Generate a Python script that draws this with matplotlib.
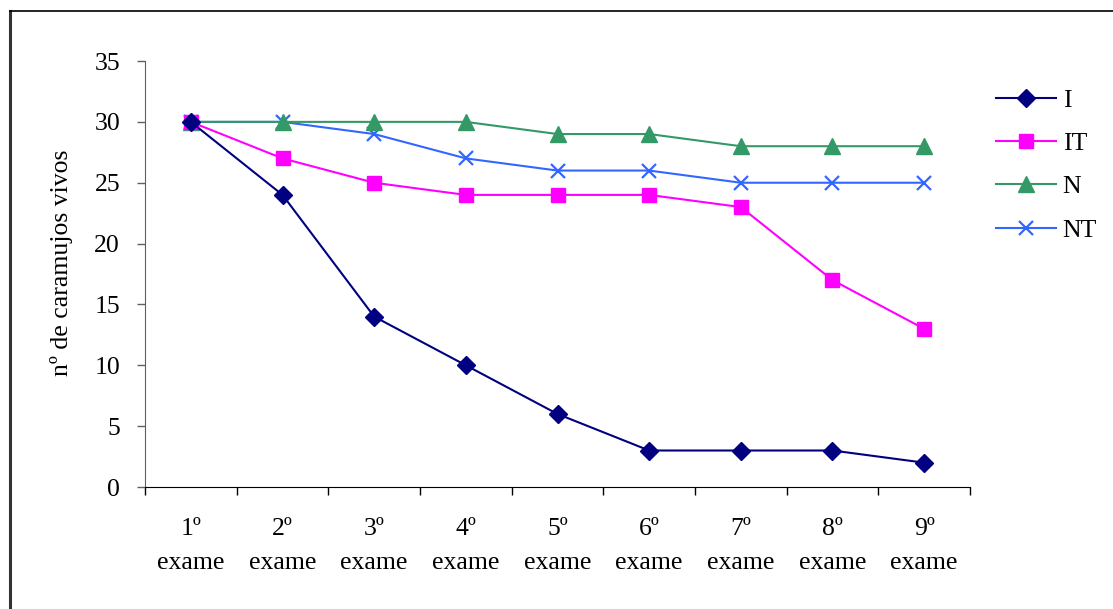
import matplotlib.pyplot as plt
from matplotlib.lines import Line2D

plt.rcParams['font.family'] = ['Liberation Serif', 'DejaVu Serif']

exames = ['1º\nexame', '2º\nexame', '3º\nexame', '4º\nexame', '5º\nexame',
          '6º\nexame', '7º\nexame', '8º\nexame', '9º\nexame']
serie_I = [30, 24, 14, 10, 6, 3, 3, 3, 2]
serie_IT = [30, 27, 25, 24, 24, 24, 23, 17, 13]
serie_N = [30, 30, 30, 30, 29, 29, 28, 28, 28]
serie_NT = [30, 30, 29, 27, 26, 26, 25, 25, 25]

FS = 18.5

fig = plt.figure(figsize=(11.13, 6.09), dpi=100)
ax = fig.add_axes([0.1303, 0.2003, 0.7412, 0.6995])

x = list(range(len(exames)))
estilos = [
    ('I', serie_I, '#000080', 'D', 9.5),
    ('IT', serie_IT, '#FF00FF', 's', 9.5),
    ('N', serie_N, '#339966', '^', 11),
    ('NT', serie_NT, '#3366FF', 'x', 10.5),
]
# desenha de trás para frente para que I fique por cima
for nome, vals, cor, mk, ms in reversed(estilos):
    ax.plot(x, vals, color=cor, marker=mk, markersize=ms, lw=1.5,
            markeredgewidth=1.6 if mk == 'x' else 1.0, clip_on=False,
            label=nome)

ax.set_xlim(-0.5, len(exames) - 0.5)
ax.set_ylim(0, 35)
ax.set_yticks(range(0, 36, 5))
ax.set_xticks([i - 0.5 for i in range(len(exames) + 1)])
ax.set_xticklabels([])
ax.set_xticks(x, minor=True)
ax.set_xticklabels(exames, minor=True, linespacing=1.75)
ax.tick_params(axis='x', which='major', direction='out', length=5.5, width=1, color='black')
ax.tick_params(axis='x', which='minor', length=0, pad=22, labelsize=FS)
ax.tick_params(axis='y', direction='out', length=6, width=1, color='#606060', labelsize=FS, pad=12)

for s in ['top', 'right']:
    ax.spines[s].set_visible(False)
ax.spines['left'].set_color('#606060')
ax.spines['bottom'].set_color('black')
ax.set_ylabel('nº de caramujos vivos', fontsize=FS)
ax.yaxis.set_label_coords(-0.087, 0.526)

handles = [Line2D([], [], color=c, marker=m, markersize=ms, lw=1.5,
                  markeredgewidth=1.6 if m == 'x' else 1.0)
           for _, _, c, m, ms in estilos]
fig.legend(handles, [e[0] for e in estilos], loc='upper left',
           bbox_to_anchor=(0.874, 0.892), frameon=False, fontsize=FS,
           handlelength=2.33, labelspacing=0.79, handletextpad=0.27)

# moldura do gráfico (topo e lado esquerdo)
fig.add_artist(Line2D([9.5 / 1113, 9.5 / 1113], [0, 1 - 11 / 609], color='#333333', lw=2.2))
fig.add_artist(Line2D([9.5 / 1113, 1], [1 - 11 / 609, 1 - 11 / 609], color='black', lw=1.2))

fig.savefig('out.png', dpi=100)
